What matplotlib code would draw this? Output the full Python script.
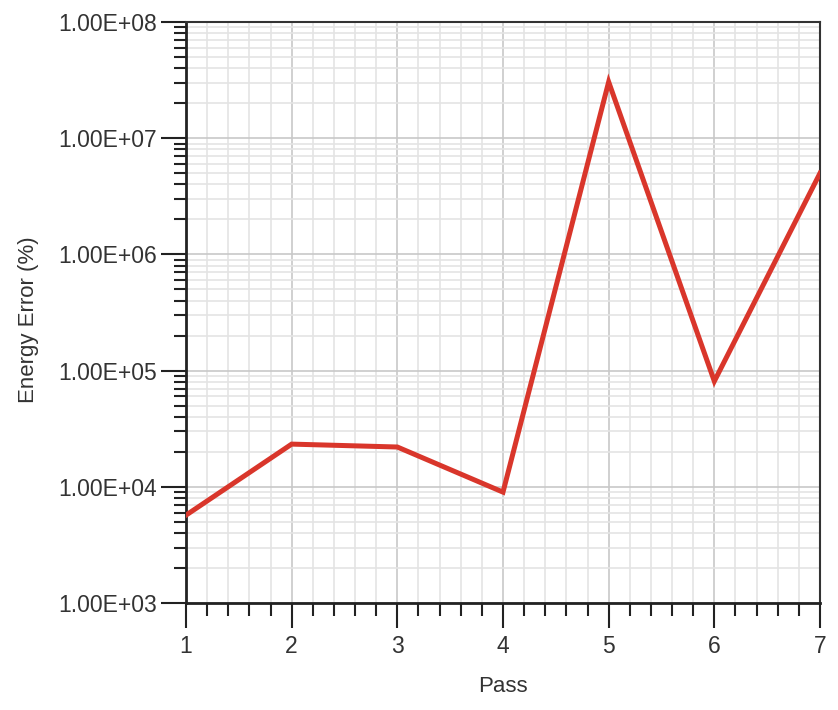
import numpy as np
import matplotlib.pyplot as plt
from matplotlib.ticker import FixedLocator, LogLocator, NullFormatter, FuncFormatter

passes = [1, 2, 3, 4, 5, 6, 7]
energy_error = [5.7e3, 2.33e4, 2.2e4, 9.0e3, 3.05e7, 8.1e4, 5.0e6]

plt.rcParams['font.family'] = ['Liberation Sans', 'DejaVu Sans']

fig = plt.figure(figsize=(8.38, 7.10), dpi=100)
ax = fig.add_axes([186/838, 1-603/710, (820-186)/838, (603-22)/710])

ax.plot(passes, energy_error, color='#d9362b', lw=3.6, solid_joinstyle='miter', zorder=3)

ax.set_yscale('log')
ax.set_xlim(1, 7)
ax.set_ylim(1e3, 1e8)

ax.xaxis.set_major_locator(FixedLocator(passes))
ax.xaxis.set_minor_locator(FixedLocator(np.arange(1, 7.001, 0.2)))
ax.yaxis.set_major_locator(LogLocator(base=10, numticks=20))
ax.yaxis.set_minor_locator(LogLocator(base=10, subs=np.arange(2, 10), numticks=20))
ax.yaxis.set_minor_formatter(NullFormatter())
ax.yaxis.set_major_formatter(FuncFormatter(lambda v, p: '1.00E+%02d' % round(np.log10(v))))

ax.grid(which='major', color='#c8c8c8', lw=1.2)
ax.grid(which='minor', color='#e4e4e4', lw=1.2)
ax.set_axisbelow(True)

ax.tick_params(which='major', length=18, width=1.5, color='#222222', labelsize=16.5, labelcolor='#333333')
ax.tick_params(which='minor', length=9, width=1.5, color='#222222')
ax.tick_params(axis='x', which='major', pad=5)
ax.tick_params(axis='y', which='major', pad=3)

for s in ['left', 'bottom']:
    ax.spines[s].set_linewidth(2)
    ax.spines[s].set_color('#222222')
for s in ['top', 'right']:
    ax.spines[s].set_linewidth(1.5)
    ax.spines[s].set_color('#333333')

ax.set_xlabel('Pass', fontsize=16, color='#333333')
ax.xaxis.set_label_coords(0.5, -(686-603)/581, transform=ax.transAxes)
ax.xaxis.label.set_va('center')
ax.set_ylabel('Energy Error (%)', fontsize=16, color='#333333')
ax.yaxis.set_label_coords(-(186-29)/634, (603-320)/581, transform=ax.transAxes)
ax.yaxis.label.set_va('center')

fig.savefig('out.png', dpi=100)
